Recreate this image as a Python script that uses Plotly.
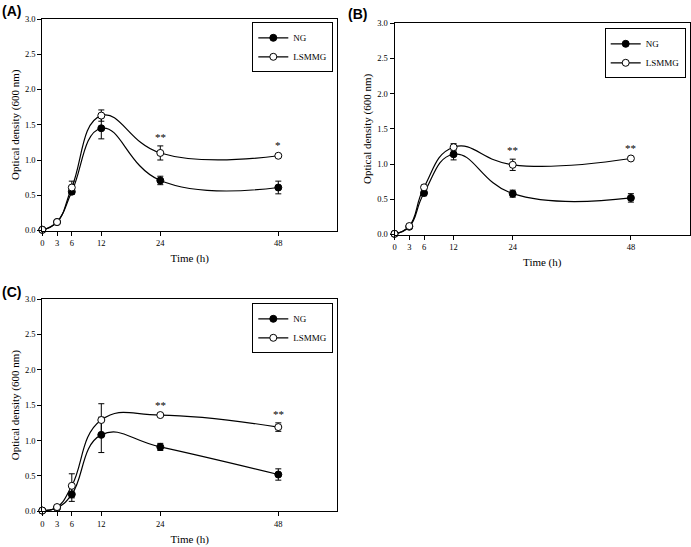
import plotly.graph_objects as go

# ---- data ----
time_h = [0, 3, 6, 12, 24, 48]
x_ticks = [0, 3, 6, 12, 24, 48]
y_ticks = [0.0, 0.5, 1.0, 1.5, 2.0, 2.5, 3.0]

a_ng = [0.01, 0.12, 0.55, 1.45, 0.71, 0.61]
a_ng_err = [0.005, 0.02, 0.03, 0.15, 0.06, 0.09]
a_ls = [0.01, 0.12, 0.61, 1.63, 1.10, 1.06]
a_ls_err = [0.005, 0.02, 0.09, 0.08, 0.10, 0.02]
a_stars = ["", "", "", "", "**", "*"]

b_ng = [0.01, 0.11, 0.59, 1.14, 0.58, 0.52]
b_ng_err = [0.005, 0.02, 0.04, 0.08, 0.05, 0.06]
b_ls = [0.01, 0.12, 0.67, 1.24, 0.99, 1.08]
b_ls_err = [0.005, 0.02, 0.03, 0.05, 0.08, 0.02]
b_stars = ["", "", "", "", "**", "**"]

c_ng = [0.01, 0.05, 0.24, 1.08, 0.91, 0.52]
c_ng_err = [0.005, 0.02, 0.10, 0.25, 0.05, 0.08]
c_ls = [0.01, 0.06, 0.36, 1.29, 1.36, 1.19]
c_ls_err = [0.005, 0.02, 0.17, 0.23, 0.02, 0.06]
c_stars = ["", "", "", "", "**", "**"]

panel_labels = ["(A)", "(B)", "(C)"]
series_names = ["NG", "LSMMG"]

SERIF = "Liberation Serif"
W, H = 691, 547

panels = [
    dict(ng=a_ng, ng_err=a_ng_err, ls=a_ls, ls_err=a_ls_err, stars=a_stars,
         px=(42.3, 337.3), py=(19.0, 230.5), leg=(333.3, 22.3), lab=(0, 1)),
    dict(ng=b_ng, ng_err=b_ng_err, ls=b_ls, ls_err=b_ls_err, stars=b_stars,
         px=(394.5, 690.0), py=(23.3, 234.5), leg=(685.7, 28.3), lab=(346, 4)),
    dict(ng=c_ng, ng_err=c_ng_err, ls=c_ls, ls_err=c_ls_err, stars=c_stars,
         px=(42.3, 337.3), py=(299.0, 511.3), leg=(333.3, 303.3), lab=(0, 282)),
]

fig = go.Figure()
annotations = []
layout = {}

for i, p in enumerate(panels):
    n = "" if i == 0 else str(i + 1)
    xa, ya = "x" + n, "y" + n
    legname = "legend" + n
    err_style = dict(type="data", visible=True, thickness=1, width=3, color="black")
    fig.add_trace(go.Scatter(
        x=time_h, y=p["ng"], name=series_names[0], xaxis=xa, yaxis=ya,
        mode="lines+markers", line=dict(shape="spline", smoothing=1.3, color="black", width=1.2),
        marker=dict(symbol="circle", size=7, color="black", line=dict(color="black", width=1)),
        error_y=dict(array=p["ng_err"], **err_style),
        cliponaxis=False, legend=legname))
    fig.add_trace(go.Scatter(
        x=time_h, y=p["ls"], name=series_names[1], xaxis=xa, yaxis=ya,
        mode="lines+markers", line=dict(shape="spline", smoothing=1.3, color="black", width=1.2),
        marker=dict(symbol="circle", size=7, color="white", line=dict(color="black", width=1)),
        error_y=dict(array=p["ls_err"], **err_style),
        cliponaxis=False, legend=legname))

    dom_x = [p["px"][0] / W, p["px"][1] / W]
    dom_y = [(H - p["py"][1]) / H, (H - p["py"][0]) / H]
    common = dict(showline=True, linecolor="black", linewidth=1, mirror=True,
                  showgrid=False, zeroline=False, ticks="outside", ticklen=4,
                  tickwidth=1, tickcolor="black", automargin=False,
                  tickfont=dict(family=SERIF, size=8.5, color="black"))
    layout["xaxis" + n] = dict(domain=dom_x, range=[0, 60], tickvals=x_ticks,
                               anchor=ya,
                               title=dict(text="Time (h)", font=dict(family=SERIF, size=11, color="black"), standoff=7),
                               **common)
    layout["yaxis" + n] = dict(domain=dom_y, range=[0, 3], tickvals=y_ticks,
                               tickformat=".1f", anchor=xa,
                               title=dict(text="Optical density (600 nm)", font=dict(family=SERIF, size=11, color="black"), standoff=3),
                               **common)
    layout[legname] = dict(x=p["leg"][0] / W, y=(H - p["leg"][1]) / H,
                           xanchor="right", yanchor="top",
                           bgcolor="white", bordercolor="black", borderwidth=1,
                           font=dict(family=SERIF, size=9, color="black"),
                           traceorder="normal", itemwidth=30, tracegroupgap=0)

    # significance stars above the LSMMG error bars
    for t, v, e, s in zip(time_h, p["ls"], p["ls_err"], p["stars"]):
        if s:
            annotations.append(dict(x=t, y=v + e, xref=xa, yref=ya, text=s,
                                    showarrow=False, yanchor="bottom", yshift=1,
                                    font=dict(family=SERIF, size=11, color="black")))

    annotations.append(dict(x=p["lab"][0] / W, y=(H - p["lab"][1]) / H,
                            xref="paper", yref="paper", xanchor="left", yanchor="top",
                            text="<b>" + panel_labels[i] + "</b>", showarrow=False,
                            font=dict(family="Liberation Sans", size=14, color="black")))

fig.update_layout(
    template="none",
    width=W, height=H, margin=dict(l=0, r=0, t=0, b=0, autoexpand=False),
    paper_bgcolor="white", plot_bgcolor="white",
    font=dict(family=SERIF, color="black"),
    annotations=annotations, **layout)

fig.write_html("out.html", config={"displayModeBar": False},
               post_script="document.body.style.margin='0';")
